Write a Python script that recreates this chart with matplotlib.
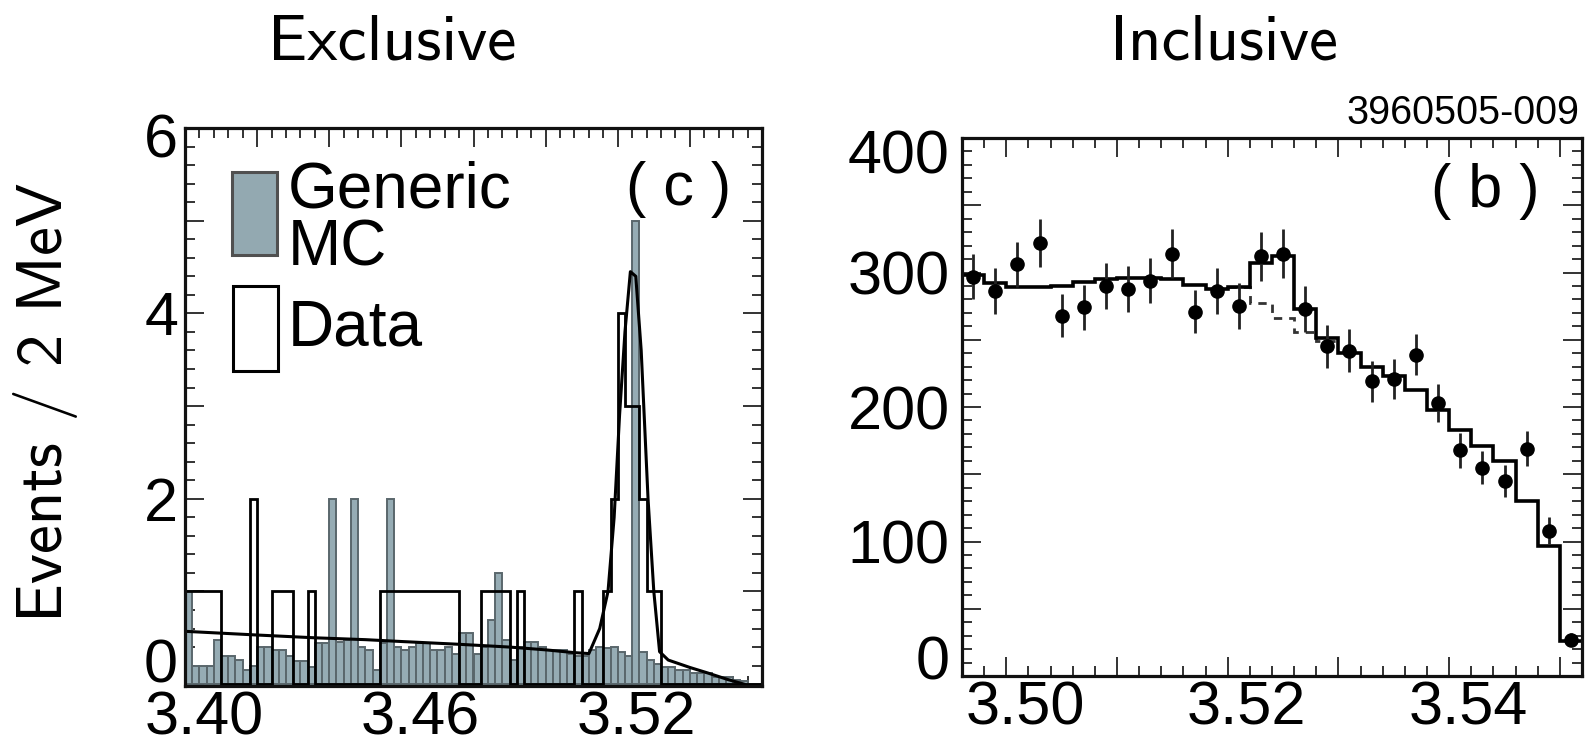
import numpy as np
import matplotlib
matplotlib.use("Agg")
import matplotlib.pyplot as plt
from matplotlib.patches import Rectangle
from matplotlib.ticker import MultipleLocator, FuncFormatter
import matplotlib.transforms as mtransforms
from matplotlib import font_manager

# ---------------- data: exclusive (left) ----------------
excl_bin_lo = 3.400
excl_bin_w = 0.002
excl_data = [1, 1, 1, 1, 1, 0, 0, 0, 0, 2,
             0, 0, 1, 1, 1, 0, 0, 1, 0, 0,
             0, 0, 0, 0, 0, 0, 0, 1, 1, 1,
             1, 1, 1, 1, 1, 1, 1, 1, 0, 0,
             0, 1, 1, 1, 1, 0, 1, 0, 0, 0,
             0, 0, 0, 0, 1, 0, 0, 0, 1, 2,
             4, 3, 3, 2, 1, 1, 0, 0, 0, 0,
             0, 0, 0, 0, 0, 0, 0, 0, 0, 0]
excl_mc = [1.0, 0.2, 0.2, 0.2, 0.48, 0.3, 0.3, 0.26, 0.15, 0.2,
           0.4, 0.4, 0.37, 0.37, 0.3, 0.25, 0.25, 0.19, 0.44, 0.44,
           2.0, 0.46, 0.48, 2.0, 0.4, 0.37, 0.15, 0.44, 2.0, 0.4,
           0.37, 0.4, 0.44, 0.44, 0.37, 0.37, 0.4, 0.33, 0.55, 0.55,
           0.33, 0.4, 0.69, 1.2, 0.48, 0.26, 0.4, 0.46, 0.46, 0.4,
           0.37, 0.37, 0.37, 0.33, 0.3, 0.3, 0.37, 0.4, 0.39, 0.4,
           0.35, 0.3, 5.0, 0.35, 0.26, 0.22, 0.19, 0.19, 0.15, 0.15,
           0.12, 0.12, 0.12, 0.08, 0.08, 0.08, 0.04, 0.03, 0.0, 0.0]
excl_fit_x = [3.400, 3.410, 3.420, 3.436, 3.450, 3.460, 3.476, 3.490, 3.500,
              3.508, 3.512, 3.515, 3.5173, 3.519, 3.5205, 3.522, 3.5235,
              3.525, 3.5265, 3.5284, 3.530, 3.5316, 3.534, 3.540, 3.545,
              3.5505, 3.555]
excl_fit_y = [0.57, 0.55, 0.53, 0.50, 0.48, 0.46, 0.43, 0.40, 0.37,
              0.34, 0.33, 0.6, 1.0, 1.8, 2.9, 3.8, 4.45,
              4.4, 3.6, 2.0, 1.0, 0.35, 0.26, 0.18, 0.12,
              0.05, 0.0]
excl_xlabels = [3.40, 3.46, 3.52]
excl_ylabels = [0, 2, 4, 6]

# ---------------- data: inclusive (right) ----------------
incl_bin_lo = 3.496
incl_bin_w = 0.002
incl_counts = [297, 286, 306, 322, 268, 274, 290, 288, 294, 314,
               271, 286, 275, 312, 314, 273, 245, 242, 219, 221,
               239, 203, 168, 155, 145, 169, 108, 27]
incl_err = [17, 17, 17, 18, 16, 17, 17, 17, 17, 18,
            16, 17, 17, 18, 18, 17, 16, 16, 15, 15,
            15, 14, 13, 12, 12, 13, 10, 5]
incl_fit = [298, 292, 289, 289, 290, 293, 295, 296, 296, 295,
            291, 288, 289, 307, 312, 273, 251, 240, 230, 223,
            213, 198, 183, 171, 160, 130, 97, 26]
incl_bkg_first = 12
incl_bkg = [289, 277, 266, 256, 249]
incl_xlabels = [3.50, 3.52, 3.54]
incl_ylabels = [0, 100, 200, 300, 400]

# ---------------- figure ----------------
W, H, DPI = 1587, 747, 100
fig = plt.figure(figsize=(W / DPI, H / DPI), dpi=DPI)
fig.patch.set_facecolor("white")


def fx(x):
    return x / W


def fy(y):
    return 1 - y / H


def ax_rect(x0, x1, y0, y1):
    return [fx(x0), fy(y1), (x1 - x0) / W, (y1 - y0) / H]


def has_font(name):
    try:
        font_manager.findfont(name, fallback_to_default=False)
        return True
    except Exception:
        return False


HELV = "Liberation Sans"
CMSS = "cmss10" if has_font("cmss10") else "DejaVu Sans"
NARROW = "Liberation Sans Narrow" if has_font("Liberation Sans Narrow") else HELV
TICK_FS = 44
TICKC = "#333333"

axL = fig.add_axes(ax_rect(185, 762, 128, 686))
axR = fig.add_axes(ax_rect(962, 1582, 138, 676))

# ---- left panel ----
edgesL = excl_bin_lo + excl_bin_w * np.arange(len(excl_data) + 1)
axL.bar(edgesL[:-1], excl_mc, width=excl_bin_w, align="edge",
        facecolor="#96acb4", edgecolor="#5a676c", linewidth=1.4, zorder=2)
axL.stairs(excl_data, edgesL, color="black", linewidth=2.0, zorder=3)
axL.plot(excl_fit_x, excl_fit_y, color="black", linewidth=2.2, zorder=4)
axL.set_xlim(3.40, 3.56)
axL.set_ylim(-0.02, 6.0)
axL.xaxis.set_major_locator(MultipleLocator(0.02))
axL.xaxis.set_minor_locator(MultipleLocator(0.004))
axL.yaxis.set_major_locator(MultipleLocator(1))
axL.yaxis.set_minor_locator(MultipleLocator(0.2))
axL.xaxis.set_major_formatter(FuncFormatter(
    lambda v, p: f"{v:.2f}" if any(np.isclose(v, excl_xlabels)) else ""))
axL.yaxis.set_major_formatter(FuncFormatter(
    lambda v, p: f"{v:.0f}" if any(np.isclose(v, excl_ylabels)) else ""))

# ---- right panel ----
edgesR = incl_bin_lo + incl_bin_w * np.arange(len(incl_counts) + 1)
centersR = 0.5 * (edgesR[:-1] + edgesR[1:])
axR.stairs(incl_fit, edgesR, baseline=None, color="black", linewidth=2.6, zorder=3)
axR.stairs(incl_bkg, edgesR[incl_bkg_first:incl_bkg_first + len(incl_bkg) + 1],
           baseline=None, color="#333333", linewidth=2.0, linestyle=(0, (3, 2.5)), zorder=2)
axR.errorbar(centersR, incl_counts, yerr=incl_err, fmt="o", color="black",
             ecolor="#222222", elinewidth=2.0, markersize=9.5, capsize=0, zorder=4)
axR.set_xlim(3.496, 3.552)
axR.set_ylim(0, 400)
axR.xaxis.set_major_locator(MultipleLocator(0.01))
axR.xaxis.set_minor_locator(MultipleLocator(0.002))
axR.yaxis.set_major_locator(MultipleLocator(50))
axR.yaxis.set_minor_locator(MultipleLocator(10))
axR.xaxis.set_major_formatter(FuncFormatter(
    lambda v, p: f"{v:.2f}" if any(np.isclose(v, incl_xlabels)) else ""))
axR.yaxis.set_major_formatter(FuncFormatter(
    lambda v, p: f"{v:.0f}" if any(np.isclose(v, incl_ylabels)) else ""))

for ax, xpad, ypad in ((axL, 3, 5), (axR, 3, 9)):
    ax.set_facecolor("white")
    for s in ax.spines.values():
        s.set_linewidth(2.3)
        s.set_color("#111111")
        s.set_zorder(6)
    ax.tick_params(which="both", direction="in", top=True, right=True,
                   color=TICKC, width=1.4)
    ax.tick_params(which="major", length=14)
    ax.tick_params(which="minor", length=7.5)
    ax.tick_params(axis="x", which="major", pad=xpad, labelsize=TICK_FS)
    ax.tick_params(axis="y", which="major", pad=ypad, labelsize=TICK_FS)
    for lab in ax.get_xticklabels() + ax.get_yticklabels():
        lab.set_fontfamily(HELV)

# panel labels
fig.text(fx(679), fy(190), "( c )", fontsize=TICK_FS, family=HELV,
         ha="center", va="center", zorder=10)
fig.text(fx(1485), fy(192), "( b )", fontsize=TICK_FS, family=HELV,
         ha="center", va="center", zorder=10)

# legend (left panel)
fig.add_artist(Rectangle((fx(232), fy(255)), 45 / W, 83 / H, transform=fig.transFigure,
                         facecolor="#93a9b1", edgecolor="#505050", linewidth=2.2, zorder=10))
fig.add_artist(Rectangle((fx(233), fy(371)), 45 / W, 85 / H, transform=fig.transFigure,
                         facecolor="white", edgecolor="black", linewidth=2.2, zorder=10))
for txt, yb in (("Generic", 207), ("MC", 265), ("Data", 346)):
    fig.text(fx(288), fy(yb), txt, fontsize=46, family=HELV, ha="left",
             va="baseline", zorder=10)

# titles / labels
tE = fig.text(fx(392), fy(59), "Exclusive", fontsize=46, family=CMSS,
              ha="center", va="baseline")
tI = fig.text(fx(1224), fy(59), "Inclusive", fontsize=46, family=CMSS,
              ha="center", va="baseline")
tY = fig.text(fx(46), fy(402), "Events / 2 MeV", fontsize=46, family=CMSS,
              rotation=90, ha="center", va="center")
tN = fig.text(fx(1579), fy(124), "3960505-009", fontsize=24, family=NARROW,
              ha="right", va="baseline")

fig.canvas.draw()
r = fig.canvas.get_renderer()


def fit(t, target, use_height=False):
    for _ in range(3):
        bb = t.get_window_extent(r)
        cur = bb.height if use_height else bb.width
        if cur > 0:
            t.set_fontsize(t.get_fontsize() * target / cur)


fit(tE, 248)
fit(tI, 228)
fit(tY, 440, use_height=True)
fit(tN, 233)


# tick label offsets to mimic reference placement
def shift(lab, dx_px, dy_px):
    off = mtransforms.ScaledTranslation(dx_px / DPI, dy_px / DPI, fig.dpi_scale_trans)
    lab.set_transform(lab.get_transform() + off)


for ax in (axL, axR):
    for tk in ax.xaxis.get_major_ticks():
        shift(tk.label1, 19, 0)

for tk, v in zip(axL.yaxis.get_major_ticks(), axL.yaxis.get_majorticklocs()):
    if np.isclose(v, 0):
        shift(tk.label1, 0, 24)
    elif np.isclose(v, 6):
        shift(tk.label1, 0, -8)
for tk, v in zip(axR.yaxis.get_major_ticks(), axR.yaxis.get_majorticklocs()):
    if np.isclose(v, 0):
        shift(tk.label1, 0, 19)
    elif np.isclose(v, 400):
        shift(tk.label1, 0, -13)

fig.savefig("out.png", dpi=DPI, facecolor="white")
